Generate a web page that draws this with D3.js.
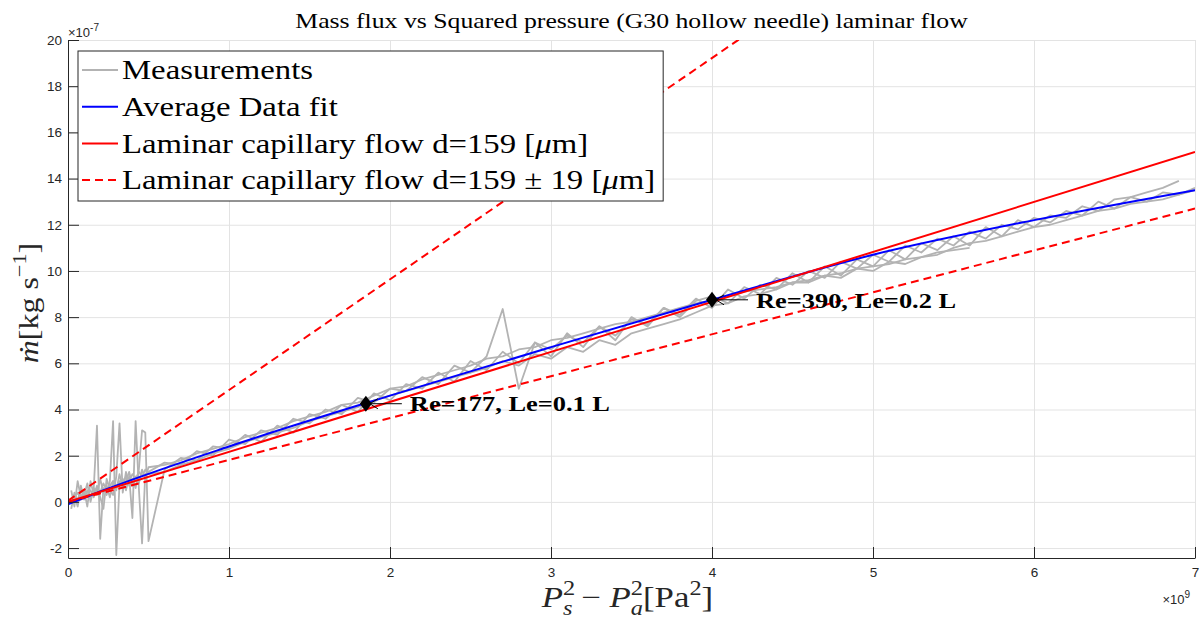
<!DOCTYPE html>
<html>
<head>
<meta charset="utf-8">
<script src="https://cdn.jsdelivr.net/npm/d3@7"></script>
<style>
body { margin: 0; background: #fff; }
svg { display: block; }
</style>
</head>
<body>
<div id="chart"></div>
<script>
// x in 1e9 Pa^2, y in 1e-7 kg/s
const xTicks = [0, 1, 2, 3, 4, 5, 6, 7];
const yTicks = [-2, 0, 2, 4, 6, 8, 10, 12, 14, 16, 18, 20];

const measX = [
  0.02, 0.04, 0.06, 0.08, 0.10, 0.12, 0.14, 0.16, 0.18, 0.20,
  0.22, 0.24, 0.26, 0.28, 0.30, 0.32, 0.34, 0.36, 0.38, 0.40,
  0.42, 0.44, 0.46, 0.48, 0.50,
  0.6, 0.7, 0.8, 0.9, 1.0, 1.1, 1.2, 1.3, 1.4, 1.5,
  1.6, 1.7, 1.8, 1.9, 2.0, 2.1, 2.2, 2.3, 2.4, 2.5,
  2.6, 2.7, 2.8, 2.9, 3.0, 3.1, 3.2, 3.3, 3.4, 3.5,
  3.6, 3.7, 3.8, 3.9, 4.0, 4.1, 4.2, 4.3, 4.4, 4.5,
  4.6, 4.7, 4.8, 4.9, 5.0, 5.1, 5.2, 5.3, 5.4, 5.5,
  5.6, 5.7, 5.8, 5.9, 6.0, 6.1, 6.2, 6.3, 6.4, 6.5,
  6.6, 6.7, 6.8, 6.9, 7.0
];
const measA = [
  -0.3, 0.4, 0.0, 0.7, 0.1, 0.5, 0.2, 0.6, 3.3, -1.6,
  0.6, 0.3, 0.9, 3.5, -2.3, 0.8, 1.0, 0.5, 1.1, -0.7,
  3.5, 0.6, -1.8, 1.2, 1.3,
  1.7, 1.6, 2.2, 2.0, 2.7, 2.5, 3.1, 2.9, 3.6, 3.4,
  4.0, 3.8, 4.5, 4.3, 4.9, 4.8, 5.4, 5.1, 5.9, 5.6,
  6.3, 8.35, 4.9, 6.9, 6.6, 7.2, 6.9, 7.6, 7.2, 7.9,
  7.7, 8.4, 8.0, 8.7, 8.9, 8.6, 9.3, 9.0, 9.7, 9.4,
  10.0, 9.7, 10.4, 10.1, 10.7, 10.4, 11.1, 10.8, 11.4, 11.1,
  11.7, 11.4, 12.0, 11.8, 12.3, 12.1, 12.6, 12.4, 13.0, 12.7,
  13.2, 13.0, 13.4, 13.3, 13.6
];
const measB = [
  0.5, -0.2, 0.9, 0.2, 0.5, -0.2, 0.9, 0.3, 0.7, 0.2,
  -0.3, 1.0, 0.5, 0.3, 1.1, 3.4, 0.4, 1.3, 0.7, 1.0,
  0.6, 1.4, 3.1, 3.0, -1.7,
  1.4, 1.9, 1.8, 2.4, 2.3, 2.9, 2.6, 3.3, 3.0, 3.8,
  3.6, 4.2, 3.9, 4.7, 4.4, 5.1, 4.9, 5.6, 5.2, 6.1,
  5.7, 6.5, 6.0, 6.9, 6.3, 7.3, 6.7, 7.6, 7.0, 8.0,
  7.6, 8.4, 8.1, 8.8, 8.4, 9.2, 8.8, 9.4, 9.2, 9.9,
  9.5, 10.2, 9.8, 10.5, 10.2, 10.9, 10.5, 11.2, 10.9, 11.5,
  11.1, 11.9, 11.5, 12.2, 11.9, 12.4, 12.3, 12.8, 12.6, 13.1,
  13.2, 13.4, 13.6, 13.9
];
const measC = [
  0.1, 0.2, 0.4, 0.1, 0.4, 0.3, 0.5, 0.2, 0.6, 0.4,
  0.8, 0.5, 0.7, 0.9, 0.6, 0.9, 0.8, 1.1, 0.9, 1.2,
  1.0, 1.3, 1.1, 1.4, 1.2,
  1.3, 1.6, 1.8, 2.1, 2.3, 2.6, 2.8, 3.0, 3.2, 3.5,
  3.7, 3.9, 4.1, 4.4, 4.6, 4.8, 5.0, 5.2, 5.4, 5.6,
  5.8, 6.1, 5.9, 6.4, 6.2, 6.7, 6.5, 7.0, 6.8, 7.3,
  7.5, 7.7, 7.9, 8.2, 8.5, 8.6, 8.9, 9.0, 9.2, 9.5,
  9.5, 9.8, 9.7, 10.1, 10.0, 10.4, 10.3, 10.6, 10.7, 11.0,
  11.2, 11.3, 11.5, 11.7, 11.9, 12.0, 12.2, 12.4, 12.6, 12.7,
  12.9, 13.0, 13.1, 13.3, 13.5
];
const measD = [
  -0.1, 0.3, -0.2, 0.5, 0.3, 0.8, 0.0, 0.6, 0.3, 1.0,
  0.4, 0.7, 0.2, 0.9, 0.5, 1.2, 0.6, 0.9, 1.3, 0.7,
  1.1, 0.8, 1.4, 1.0, 1.5,
  1.6, 1.8, 2.1, 2.3, 2.5, 2.8, 3.0, 3.2, 3.5, 3.7,
  3.9, 4.2, 4.3, 4.6, 4.9, 5.0, 5.3, 5.5, 5.7, 5.9,
  6.2, 6.3, 6.6, 6.7, 7.0, 7.1, 7.3, 7.5, 7.7, 7.8,
  8.0, 8.2, 8.4, 8.6, 8.7, 8.9, 9.1, 9.2, 9.3, 9.5,
  9.6, 9.8, 9.9, 10.1, 10.2, 10.3, 10.5, 10.6, 10.8, 10.9,
  11.0
];
const measurements = [measA, measB, measC, measD];

const fitX = [0, 0.2, 1, 2, 3, 4, 5, 6, 7];
const fitY = [-0.1, 0.45, 2.4, 4.6, 6.7, 8.75, 10.7, 12.2, 13.5];

const lamX = [0, 7];
const lamY = [0, 15.15];
const lamHighY = [0.05, 33.6];
const lamLowY = [0, 12.7];

const markX = [1.85, 4.0];
const markY = [4.25, 8.75];
const markText = ["Re=177, Le=0.1 L", "Re=390, Le=0.2 L"];

const legendNames = [
  "Measurements",
  "Average Data fit",
  "Laminar capillary flow d=159 [μm]",
  "Laminar capillary flow d=159 ± 19 [μm]"
];

const W = 1203, H = 622;
const margin = {top: 40, right: 8, bottom: 64, left: 68};
const width = W - margin.left - margin.right;
const height = H - margin.top - margin.bottom;
const serif = "'Liberation Serif', 'Times New Roman', serif";
const sans = "'Liberation Sans', Arial, sans-serif";
const axisColor = "#262626";
const stretch = 1.14; // widen Times toward Computer Modern proportions

const root = d3.select("#chart").append("svg")
    .attr("width", W)
    .attr("height", H);

const svg = root.append("g")
    .attr("transform", "translate(" + margin.left + "," + margin.top + ")");

const x = d3.scaleLinear().domain([0, 7]).range([0, width]);
const y = d3.scaleLinear().domain([-2.43, 20]).range([height, 0]);

// grid
svg.append("g")
    .attr("transform", "translate(0," + height + ")")
    .call(d3.axisBottom(x).tickValues(xTicks).tickSize(-height).tickFormat(""))
    .call(g => g.select(".domain").remove())
    .selectAll("line").attr("stroke", "#e3e3e3");
svg.append("g")
    .call(d3.axisLeft(y).tickValues(yTicks).tickSize(-width).tickFormat(""))
    .call(g => g.select(".domain").remove())
    .selectAll("line").attr("stroke", "#e3e3e3");

root.append("clipPath").attr("id", "plotclip")
  .append("rect")
    .attr("width", width)
    .attr("height", height);

const plot = svg.append("g").attr("clip-path", "url(#plotclip)");

const line = d3.line()
    .x(d => x(d[0]))
    .y(d => y(d[1]));

// measurements
measurements.forEach(function(series) {
    plot.append("path")
        .datum(series.map((v, i) => [measX[i], v]))
        .attr("d", line)
        .attr("fill", "none")
        .attr("stroke", "#b3b3b3")
        .attr("stroke-width", 1.8)
        .attr("stroke-linejoin", "round");
});

// average fit
plot.append("path")
    .datum(fitX.map((v, i) => [v, fitY[i]]))
    .attr("d", line.curve(d3.curveMonotoneX))
    .attr("fill", "none")
    .attr("stroke", "#0000ff")
    .attr("stroke-width", 2);
line.curve(d3.curveLinear);

// laminar lines
plot.append("path")
    .datum(lamX.map((v, i) => [v, lamY[i]]))
    .attr("d", line)
    .attr("fill", "none")
    .attr("stroke", "#ff0000")
    .attr("stroke-width", 2);

[lamHighY, lamLowY].forEach(function(vals) {
    plot.append("path")
        .datum(lamX.map((v, i) => [v, vals[i]]))
        .attr("d", line)
        .attr("fill", "none")
        .attr("stroke", "#ff0000")
        .attr("stroke-width", 2)
        .attr("stroke-dasharray", "8,5");
});

// markers + annotations
const diamond = d3.symbol().type(d3.symbolDiamond2).size(92);
markX.forEach(function(mx, i) {
    const px = x(mx), py = y(markY[i]);
    const a = svg.append("g");
    a.append("path")
        .attr("d", "M" + (px + 4) + "," + py + "H" + (px + 36))
        .attr("stroke", "#000").attr("stroke-width", 1);
    a.append("path")
        .attr("d", "M" + (px + 12) + "," + (py - 5) + "L" + (px + 4) + "," + py + "L" + (px + 12) + "," + (py + 5))
        .attr("fill", "none").attr("stroke", "#000").attr("stroke-width", 1);
    a.append("path")
        .attr("d", diamond())
        .attr("transform", "translate(" + px + "," + py + ") scale(1,1.33)")
        .attr("fill", "#000");
    a.append("g")
        .attr("transform", "translate(" + (px + 44) + "," + py + ") scale(1.2,1)")
      .append("text")
        .attr("dy", "0.35em")
        .style("font-family", serif)
        .style("font-weight", "bold")
        .style("font-size", "22px")
        .text(markText[i]);
});

// axes
const xAxis = svg.append("g")
    .attr("transform", "translate(0," + height + ")")
    .call(d3.axisBottom(x).tickValues(xTicks).tickSizeInner(-11).tickSizeOuter(0).tickPadding(9).tickFormat(String));
const yAxis = svg.append("g")
    .call(d3.axisLeft(y).tickValues(yTicks).tickSizeInner(-11).tickSizeOuter(0).tickPadding(6).tickFormat(String));
[xAxis, yAxis].forEach(function(g) {
    g.selectAll("path, line").attr("stroke", axisColor);
    g.selectAll("text")
        .attr("fill", axisColor)
        .style("font-family", sans)
        .style("font-size", "13.5px");
});

// exponent labels
function expLabel(px, py, exp, anchor) {
    const t = root.append("text")
        .attr("x", px).attr("y", py)
        .attr("text-anchor", anchor)
        .attr("fill", axisColor)
        .style("font-family", sans)
        .style("font-size", "13px");
    t.append("tspan").text("×10");
    t.append("tspan").attr("dy", -6).style("font-size", "10px").text(exp);
}
expLabel(68, 37, "-7", "start");
expLabel(1190, 604, "9", "end");

// math-ish labels
function mathText(sel, parts, fs) {
    const small = fs * 0.7;
    let shift = 0;
    parts.forEach(function(p) {
        const t = sel.append("tspan").text(p[0]);
        let target = 0, size = fs;
        if (p[1] === "sup") { target = -fs * 0.42; size = small; }
        if (p[1] === "sub") { target = fs * 0.28; size = small; }
        t.attr("dy", target - shift).style("font-size", size + "px");
        shift = target;
        if (p[2]) t.style("font-style", "italic");
        if (p[3]) t.attr("dx", -p[3] * small);
    });
}

const xLabel = root.append("g")
    .attr("transform", "translate(" + (margin.left + width / 2 - 4) + ",607) scale(1.2,1)")
  .append("text")
    .attr("text-anchor", "middle")
    .attr("fill", axisColor)
    .style("font-family", serif);
mathText(xLabel, [
    ["P", "rm", true], ["2", "sup"], ["s", "sub", true, 0.5],
    ["  −  ", "rm"], ["P", "rm", true], ["2", "sup"], ["a", "sub", true, 0.5],
    ["[Pa", "rm"], ["2", "sup"], ["]", "rm"]
], 29);

const yLabel = root.append("text")
    .attr("transform", "translate(38," + (margin.top + height / 2 + 4) + ") rotate(-90) scale(" + stretch + ",1)")
    .attr("text-anchor", "middle")
    .attr("fill", axisColor)
    .style("font-family", serif);
mathText(yLabel, [
    ["ṁ", "rm", true], ["[kg s", "rm"], ["−1", "sup"], ["]", "rm"]
], 28);

// title
root.append("g")
    .attr("transform", "translate(" + (margin.left + width / 2) + ",28) scale(1.17,1)")
  .append("text")
    .attr("text-anchor", "middle")
    .attr("fill", "#000")
    .style("font-family", serif)
    .style("font-size", "22px")
    .text("Mass flux vs Squared pressure (G30 hollow needle) laminar flow");

// legend
const legend = root.append("g").attr("transform", "translate(78,51)");
const legendBox = legend.append("rect")
    .attr("fill", "#fff")
    .attr("stroke", axisColor)
    .attr("stroke-width", 1);
const legendStyles = [
    {stroke: "#b3b3b3", dash: null},
    {stroke: "#0000ff", dash: null},
    {stroke: "#ff0000", dash: null},
    {stroke: "#ff0000", dash: "8,5"}
];
const legendStretch = 1.17;
let legendWidth = 0;
legendNames.forEach(function(name, i) {
    const cy = 19 + i * 36.7;
    legend.append("line")
        .attr("x1", 4).attr("x2", 40)
        .attr("y1", cy).attr("y2", cy)
        .attr("stroke", legendStyles[i].stroke)
        .attr("stroke-width", i === 0 ? 1.8 : 2)
        .attr("stroke-dasharray", legendStyles[i].dash);
    const t = legend.append("g")
        .attr("transform", "translate(44," + cy + ") scale(" + legendStretch + ",1)")
      .append("text")
        .attr("dy", "0.33em")
        .attr("fill", "#000")
        .style("font-family", serif)
        .style("font-size", "28px");
    name.split("μ").forEach(function(piece, k) {
        if (k > 0) t.append("tspan").style("font-style", "italic").text("μ");
        t.append("tspan").text(piece);
    });
    legendWidth = Math.max(legendWidth, 44 + legendStretch * t.node().getComputedTextLength());
});
legendBox.attr("width", legendWidth + 8).attr("height", 150);
</script>
</body>
</html>
